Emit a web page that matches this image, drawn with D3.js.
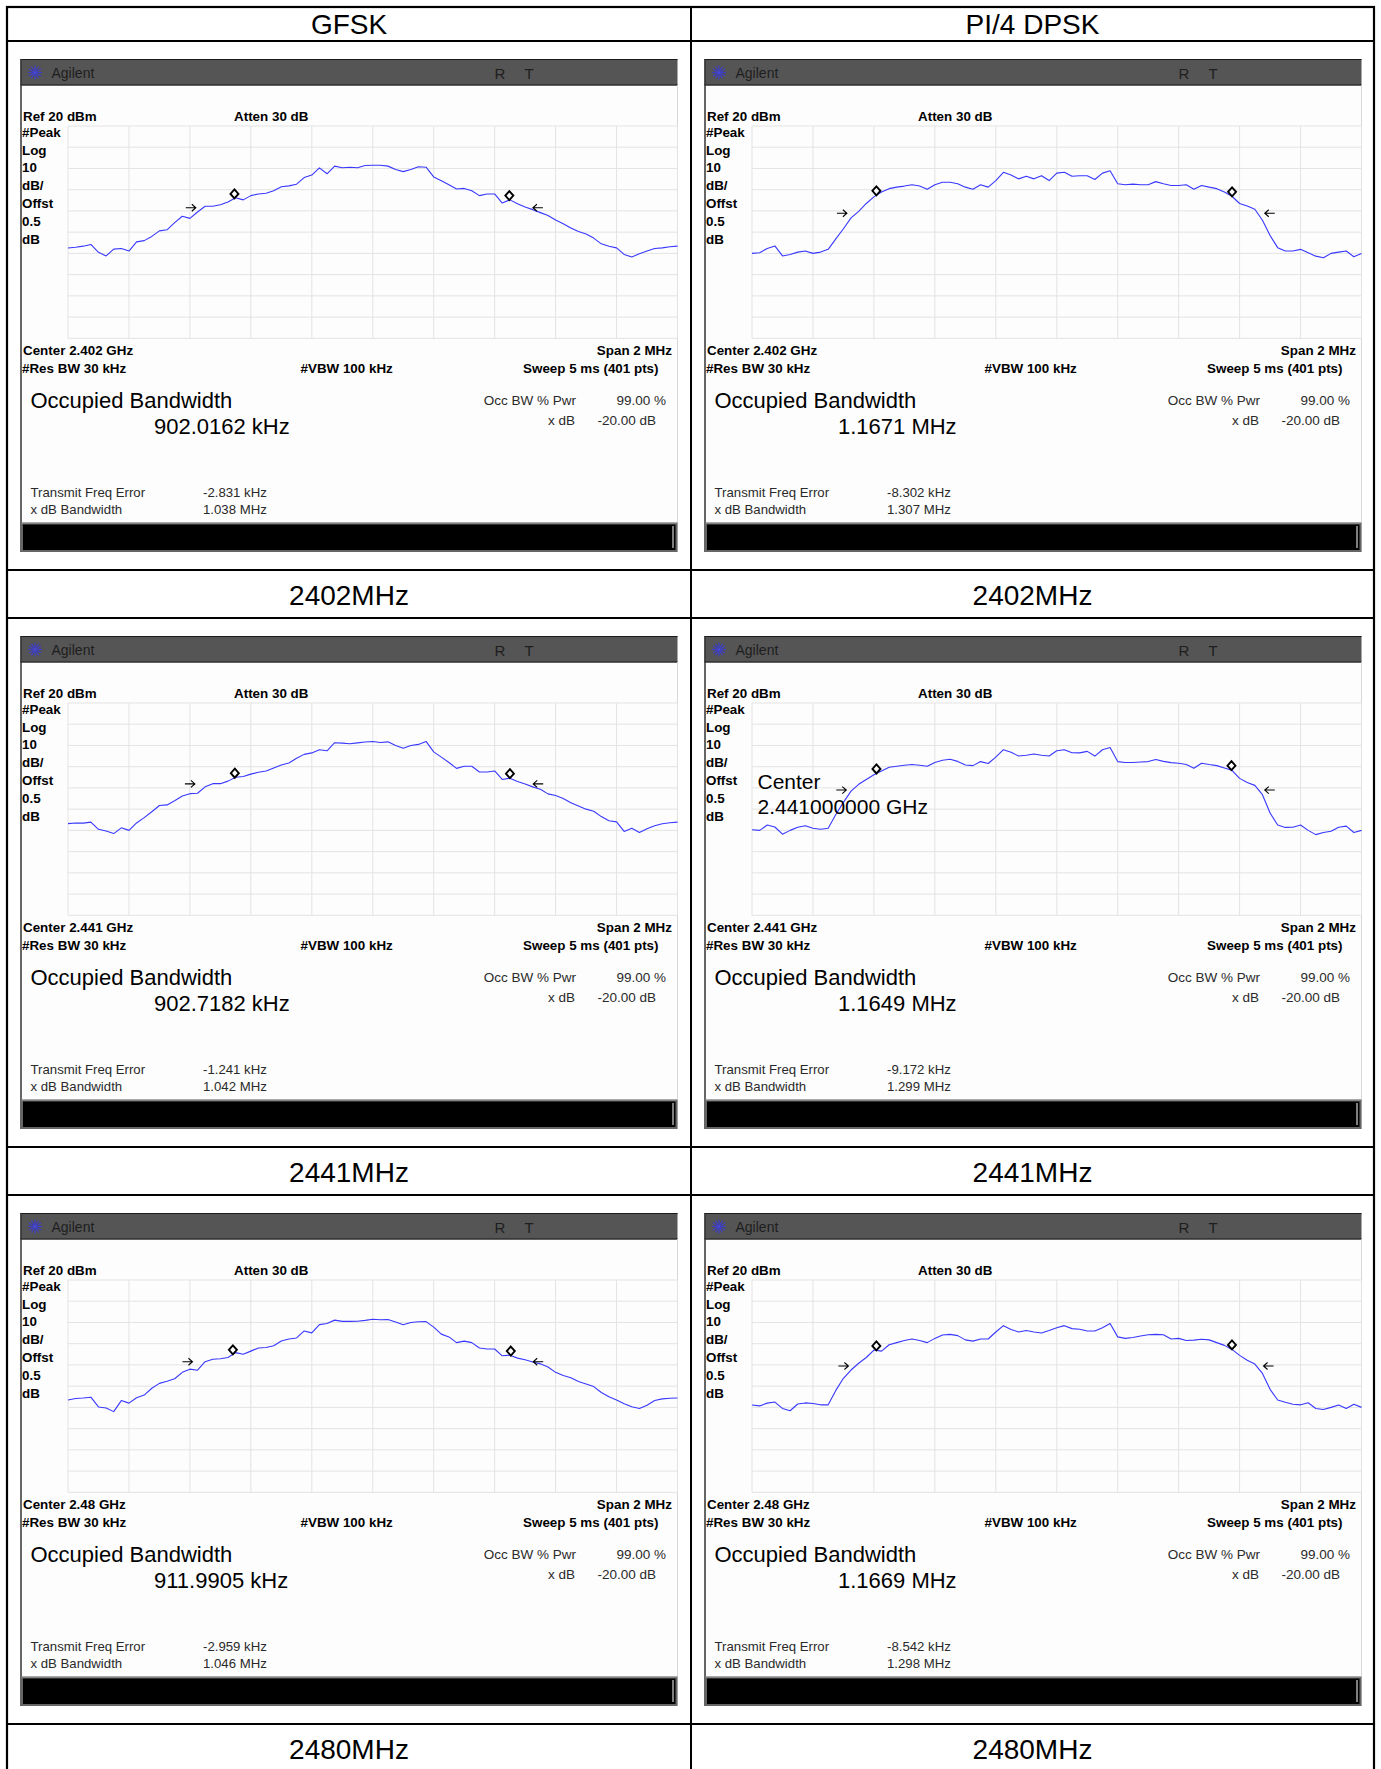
<!DOCTYPE html>
<html><head><meta charset="utf-8">
<script src="https://cdn.jsdelivr.net/npm/d3@7"></script>
<style>
html,body{margin:0;padding:0;background:#fff;}
text{font-family:"Liberation Sans",Arial,Helvetica,sans-serif;}
</style></head>
<body>
<script>
// ---------------- DATA ----------------
const modes = ["GFSK", "PI/4 DPSK"];
const channels = ["2402MHz", "2441MHz", "2480MHz"];
const centerGHz = ["2.402", "2.441", "2.48"];
const obwKHz = [[902.0162, 1167.1], [902.7182, 1164.9], [911.9905, 1166.9]];
const freqErrKHz = [[-2.831, -8.302], [-1.241, -9.172], [-2.959, -8.542]];
const xdbBwMHz = [[1.038, 1.307], [1.042, 1.299], [1.046, 1.298]];
const arrowLeftKHz = [[-597, -705], [-600, -707], [-608, -700]];
const arrowRightKHz = [[542, 699], [543, 699], [543, 695]];
const refLevel = 20, dbPerDiv = 10, divisions = 10;
const spanKHz = 2000;
const yTicks = [20, 10, 0, -10, -20, -30, -40, -50, -60, -70, -80];
const xTicks = [-1000, -800, -600, -400, -200, 0, 200, 400, 600, 800, 1000];
const leftLabels = ["#Peak", "Log", "10", "dB/", "Offst", "0.5", "dB"];

const freqKHz = [-1000,-975,-950,-925,-900,-875,-850,-825,-800,-775,-750,-725,-700,-675,-650,-625,-600,-575,-550,-525,-500,-475,-450,-425,-400,-375,-350,-325,-300,-275,-250,-225,-200,-175,-150,-125,-100,-75,-50,-25,0,25,50,75,100,125,150,175,200,225,250,275,300,325,350,375,400,425,450,475,500,525,550,575,600,625,650,675,700,725,750,775,800,825,850,875,900,925,950,975,1000];

const gfsk2402 = [-37.5,-37.1,-36.6,-35.8,-39.5,-41.2,-38.0,-37.7,-38.9,-34.6,-34.0,-32.0,-29.4,-28.9,-25.5,-22.5,-23.5,-20.5,-17.8,-17.8,-17.1,-15.8,-13.8,-14.8,-12.8,-12.0,-11.7,-10.5,-8.6,-8.2,-7.4,-4.3,-3.1,0.3,-2.5,1.1,0.3,0.6,0.3,1.4,1.5,1.5,1.1,-0.5,-1.5,-0.5,0.8,0.6,-4.0,-5.8,-7.7,-9.7,-9.4,-10.5,-12.8,-12.0,-12.0,-16.3,-14.8,-16.6,-18.2,-19.4,-20.8,-22.2,-24.3,-26.0,-28.0,-29.7,-30.9,-32.8,-35.5,-36.6,-37.4,-40.5,-41.7,-40.2,-38.9,-37.7,-37.4,-36.9,-36.6];
const dpsk2402 = [-40.0,-39.7,-37.7,-36.5,-41.2,-40.5,-39.4,-38.9,-40.0,-39.4,-38.1,-33.2,-28.4,-23.3,-20.2,-16.5,-13.4,-11.1,-9.5,-8.8,-8.3,-7.7,-8.3,-9.8,-7.7,-6.5,-6.5,-7.2,-8.8,-9.8,-7.7,-8.8,-5.7,-1.8,-3.1,-4.9,-3.7,-4.9,-3.4,-5.7,-2.2,-1.8,-3.7,-3.4,-3.4,-5.2,-2.2,-1.1,-7.2,-7.7,-7.4,-7.7,-7.7,-6.2,-7.2,-8.0,-8.0,-7.7,-9.8,-8.0,-8.8,-9.5,-11.1,-13.1,-16.5,-17.7,-19.2,-24.4,-31.6,-37.3,-38.9,-38.9,-38.1,-39.7,-41.3,-42.1,-40.0,-39.4,-38.9,-41.6,-40.0];
const gfsk2441 = [-36.8,-36.5,-36.6,-36.1,-39.5,-40.3,-41.5,-38.8,-40.0,-36.5,-34.0,-31.2,-28.3,-28.0,-26.0,-23.8,-22.7,-22.5,-19.5,-18.0,-18.0,-16.8,-15.0,-14.6,-13.5,-12.6,-12.0,-10.6,-9.2,-8.3,-6.0,-4.2,-3.5,-2.0,-2.5,1.3,1.1,0.8,1.2,1.6,1.9,1.4,1.7,0.0,-1.3,0.0,0.5,1.9,-3.0,-5.5,-8.0,-10.8,-9.8,-9.8,-12.5,-12.5,-12.0,-16.0,-15.4,-17.0,-18.2,-19.5,-20.6,-22.8,-23.6,-25.0,-27.0,-28.5,-30.0,-31.0,-33.5,-35.5,-36.0,-40.5,-39.0,-41.0,-39.2,-37.8,-36.9,-36.4,-36.1];
const dpsk2441 = [-39.7,-40.0,-37.5,-38.4,-41.8,-40.0,-38.5,-37.8,-39.0,-39.5,-39.0,-32.5,-26.8,-21.5,-18.3,-16.0,-13.8,-12.0,-10.3,-9.8,-9.3,-9.0,-9.3,-9.8,-8.0,-7.0,-6.5,-7.5,-9.2,-9.5,-7.6,-8.5,-5.5,-2.0,-3.2,-5.0,-4.6,-4.0,-4.6,-5.0,-2.5,-2.0,-3.4,-3.5,-2.8,-5.0,-2.0,-1.0,-7.6,-8.0,-8.0,-7.8,-7.6,-6.6,-7.5,-8.1,-8.4,-9.0,-10.7,-8.4,-9.0,-9.5,-10.6,-11.7,-15.5,-17.4,-18.8,-23.2,-31.8,-37.5,-38.6,-38.5,-37.5,-40.0,-42.0,-41.0,-40.4,-38.5,-38.0,-41.0,-40.0];
const gfsk2480 = [-36.5,-35.8,-35.6,-35.2,-39.8,-40.3,-42.0,-36.8,-38.0,-35.5,-34.2,-31.0,-28.7,-27.7,-26.5,-23.5,-22.0,-22.5,-18.5,-17.3,-17.1,-16.5,-14.2,-15.0,-13.5,-12.0,-11.8,-11.0,-8.7,-7.8,-7.3,-4.0,-4.9,-1.0,-0.5,1.1,0.5,0.5,0.6,1.0,1.5,1.3,1.4,0.2,-1.1,0.0,0.3,0.4,-2.2,-5.5,-6.8,-9.5,-8.8,-9.5,-12.0,-12.5,-12.5,-15.7,-15.4,-16.8,-17.6,-18.6,-19.5,-21.0,-23.5,-25.0,-26.0,-27.8,-29.0,-30.2,-33.0,-35.0,-36.5,-38.3,-39.7,-40.5,-39.0,-36.8,-36.0,-35.7,-35.6];
const dpsk2480 = [-38.9,-39.3,-38.0,-37.5,-40.5,-41.6,-38.4,-37.9,-38.2,-38.8,-38.8,-32.0,-26.3,-22.4,-19.2,-16.5,-13.0,-13.5,-10.5,-9.5,-8.5,-7.8,-8.5,-9.5,-7.5,-5.9,-5.6,-6.2,-8.2,-8.8,-7.8,-7.8,-4.5,-1.5,-3.3,-4.5,-3.8,-4.5,-5.0,-3.8,-2.5,-1.5,-2.9,-3.2,-4.0,-4.0,-2.5,-0.5,-6.8,-7.5,-7.1,-6.4,-5.8,-5.6,-5.8,-7.8,-7.5,-8.5,-8.3,-7.9,-8.2,-9.5,-10.8,-12.7,-15.5,-17.8,-19.6,-24.0,-31.5,-36.5,-37.6,-38.5,-38.8,-37.8,-40.5,-41.0,-40.0,-38.9,-40.5,-38.5,-40.0];
const traces = [[gfsk2402, dpsk2402], [gfsk2441, dpsk2441], [gfsk2480, dpsk2480]];

// ---------------- LAYOUT ----------------
const W = 1381, H = 1769;
const tableX0 = 7, tableX1 = 1374, colDiv = 691, tableY0 = 7, headerY1 = 41;
const imgRowH = 529, rowPitch = 577;
const colX = [tableX0, colDiv];
const shotW = 657, shotH = 493, shotDX = 13.5, shotDY = 18;
const grat = {x0: 47.5, x1: 657, y0: 67, y1: 279.3};

const svg = d3.select("body").append("svg").attr("width", W).attr("height", H)
  .attr("viewBox", `0 0 ${W} ${H}`);
svg.append("rect").attr("width", W).attr("height", H).attr("fill", "#fff");

function fmtObw(v){ return v < 1000 ? v.toFixed(4) + " kHz" : (v/1000).toFixed(4) + " MHz"; }

const x = d3.scaleLinear().domain([-spanKHz/2, spanKHz/2]).range([grat.x0, grat.x1]);
const y = d3.scaleLinear().domain([refLevel - dbPerDiv*divisions, refLevel]).range([grat.y1, grat.y0]);
const line = d3.line().x((d,i) => x(freqKHz[i])).y(d => y(d));

function txt(g, s, px, py, opts){
  return g.append("text").attr("x", px).attr("y", py).text(s)
    .attr("dominant-baseline", "central")
    .attr("font-size", opts.size || 13)
    .attr("font-weight", opts.bold ? "bold" : "normal")
    .attr("fill", opts.fill || "#000")
    .attr("text-anchor", opts.anchor || "start");
}

function drawShot(k, m){
  const sx = colX[m] + shotDX, sy = headerY1 + k*rowPitch + shotDY;
  const g = svg.append("g").attr("transform", `translate(${sx},${sy})`);
  g.append("rect").attr("width", shotW).attr("height", shotH).attr("fill", "#fdfdfd");
  // title bar
  g.append("rect").attr("width", shotW).attr("height", 26).attr("fill", "#555555");
  g.append("line").attr("x1", 0).attr("x2", shotW).attr("y1", 26).attr("y2", 26).attr("stroke", "#2e2e2e").attr("stroke-width", 1.5);
  // frame
  g.append("line").attr("x1", 0).attr("x2", shotW).attr("y1", 0.5).attr("y2", 0.5).attr("stroke", "#1a1a1a").attr("stroke-width", 1.2);
  g.append("line").attr("x1", 0.5).attr("x2", 0.5).attr("y1", 0).attr("y2", shotH).attr("stroke", "#333").attr("stroke-width", 1.5);
  g.append("line").attr("x1", shotW).attr("x2", shotW).attr("y1", 26).attr("y2", shotH).attr("stroke", "#d8d8d8").attr("stroke-width", 1);
  // logo
  const logo = g.append("g").attr("transform", "translate(14.5,13.5)");
  d3.range(12).forEach(j => {
    const a = j * Math.PI / 6;
    logo.append("line").attr("x1", 1.5*Math.cos(a)).attr("y1", 1.5*Math.sin(a))
      .attr("x2", 7*Math.cos(a)).attr("y2", 7*Math.sin(a))
      .attr("stroke", "#3c3cc8").attr("stroke-width", 1.2);
  });
  logo.append("circle").attr("r", 1.6).attr("fill", "#4848d8");
  txt(g, "Agilent", 31, 14, {size: 14, fill: "#1e1e1e"});
  txt(g, "R", 474, 14, {size: 15, fill: "#1e1e1e"});
  txt(g, "T", 504, 14, {size: 15, fill: "#1e1e1e"});
  // top labels
  txt(g, `Ref ${refLevel} dBm`, 2.5, 57, {size: 13.4, bold: true});
  txt(g, "Atten 30 dB", 213.5, 57, {size: 13.4, bold: true});
  leftLabels.forEach((s, i) => txt(g, s, 1.5, 73.3 + i*17.8, {size: 13.4, bold: true}));
  // graticule
  const grid = g.append("g");
  grid.selectAll("line.v").data(xTicks).join("line").attr("class", "v")
    .attr("x1", d => x(d)).attr("x2", d => x(d)).attr("y1", grat.y0).attr("y2", grat.y1)
    .attr("stroke", "#e3e3e3").attr("stroke-width", 1);
  grid.selectAll("line.h").data(yTicks).join("line").attr("class", "h")
    .attr("x1", grat.x0).attr("x2", grat.x1).attr("y1", d => y(d)).attr("y2", d => y(d))
    .attr("stroke", "#e3e3e3").attr("stroke-width", 1);
  // trace
  const tr = traces[k][m];
  g.append("path").attr("d", line(tr)).attr("fill", "none").attr("stroke", "#3838ff")
    .attr("stroke-width", 1.1).attr("stroke-linejoin", "round");
  // markers
  const lvl = d3.scaleLinear().domain(freqKHz).range(tr);
  const fe = freqErrKHz[k][m], half = obwKHz[k][m] / 2;
  [fe - half, fe + half].forEach(f => {
    const px = x(f), py = y(lvl(f)) - 4.5;
    g.append("path").attr("d", `M${px},${py-4.5}L${px+4},${py}L${px},${py+4.5}L${px-4},${py}Z`)
      .attr("fill", "#fff").attr("stroke", "#000").attr("stroke-width", 1.9);
  });
  const arrowY = y(d3.max(tr) - 20);
  const drawArrow = (f, dir) => {
    const px = x(f);
    const tip = px + dir*5, tail = px - dir*5;
    g.append("path").attr("d", `M${tail},${arrowY}L${tip},${arrowY}M${tip - dir*4},${arrowY-3.5}L${tip},${arrowY}L${tip - dir*4},${arrowY+3.5}`)
      .attr("fill", "none").attr("stroke", "#000").attr("stroke-width", 1.1);
  };
  drawArrow(arrowLeftKHz[k][m], 1);
  drawArrow(arrowRightKHz[k][m], -1);
  // overlay on PI/4 DPSK 2441
  if (k === 1 && m === 1) {
    txt(g, "Center", 53, 145, {size: 21});
    txt(g, centerGHz[k] + "000000 GHz", 53, 170.5, {size: 21});
  }
  // bottom labels
  txt(g, `Center ${centerGHz[k]} GHz`, 2.5, 291, {size: 13.4, bold: true});
  txt(g, `Span ${spanKHz/1000} MHz`, 651.5, 291, {size: 13.4, bold: true, anchor: "end"});
  txt(g, "#Res BW 30 kHz", 1.5, 309.7, {size: 13.4, bold: true});
  txt(g, "#VBW 100 kHz", 280, 309.7, {size: 13.4, bold: true});
  txt(g, "Sweep 5 ms (401 pts)", 638, 309.7, {size: 13.4, bold: true, anchor: "end"});
  txt(g, "Occupied Bandwidth", 10, 341.7, {size: 22});
  txt(g, fmtObw(obwKHz[k][m]), 133.5, 367.7, {size: 22});
  txt(g, "Occ BW % Pwr", 555.5, 341.7, {size: 13.5, fill: "#2a2a2a", anchor: "end"});
  txt(g, "99.00 %", 645.5, 341.7, {size: 13.5, fill: "#2a2a2a", anchor: "end"});
  txt(g, "x dB", 554.5, 361.7, {size: 13.5, fill: "#2a2a2a", anchor: "end"});
  txt(g, "-20.00 dB", 635.5, 361.7, {size: 13.5, fill: "#2a2a2a", anchor: "end"});
  txt(g, "Transmit Freq Error", 10, 433, {size: 13.2, fill: "#2a2a2a"});
  txt(g, freqErrKHz[k][m].toFixed(3) + " kHz", 182.5, 433, {size: 13.2, fill: "#2a2a2a"});
  txt(g, "x dB Bandwidth", 10, 450.3, {size: 13.2, fill: "#2a2a2a"});
  txt(g, xdbBwMHz[k][m].toFixed(3) + " MHz", 182.5, 450.3, {size: 13.2, fill: "#2a2a2a"});
  // black status bar
  g.append("rect").attr("x", 1.5).attr("y", 464.5).attr("width", 654.5).attr("height", 27.5)
    .attr("fill", "#000").attr("stroke", "#666").attr("stroke-width", 2);
  g.append("line").attr("x1", 1).attr("x2", 656).attr("y1", 464).attr("y2", 464).attr("stroke", "#a0a0a0").attr("stroke-width", 1);
  g.append("line").attr("x1", 652.5).attr("x2", 652.5).attr("y1", 467).attr("y2", 489).attr("stroke", "#ffffff").attr("stroke-width", 1);
}

// table
const tbl = svg.append("g");
tbl.append("rect").attr("x", tableX0).attr("y", tableY0).attr("width", tableX1 - tableX0).attr("height", 1790)
  .attr("fill", "none").attr("stroke", "#000").attr("stroke-width", 2.2);
tbl.append("line").attr("x1", colDiv).attr("x2", colDiv).attr("y1", tableY0).attr("y2", 1790)
  .attr("stroke", "#000").attr("stroke-width", 2);
tbl.append("line").attr("x1", tableX0).attr("x2", tableX1).attr("y1", headerY1).attr("y2", headerY1)
  .attr("stroke", "#000").attr("stroke-width", 2.2);
modes.forEach((md, m) => {
  const cx = (colX[m] + (m === 0 ? colDiv : tableX1)) / 2;
  txt(tbl, md, cx, 24, {size: 28, anchor: "middle"});
});
channels.forEach((ch, k) => {
  const lt = headerY1 + k*rowPitch + imgRowH;
  tbl.append("line").attr("x1", tableX0).attr("x2", tableX1).attr("y1", lt).attr("y2", lt)
    .attr("stroke", "#000").attr("stroke-width", 2.2);
  const lb = headerY1 + (k+1)*rowPitch;
  tbl.append("line").attr("x1", tableX0).attr("x2", tableX1).attr("y1", lb).attr("y2", lb)
    .attr("stroke", "#000").attr("stroke-width", 2.2);
  modes.forEach((md, m) => {
    const cx = (colX[m] + (m === 0 ? colDiv : tableX1)) / 2;
    txt(tbl, ch, cx, lt + 25, {size: 28, anchor: "middle"});
    drawShot(k, m);
  });
});
</script>
</body></html>
